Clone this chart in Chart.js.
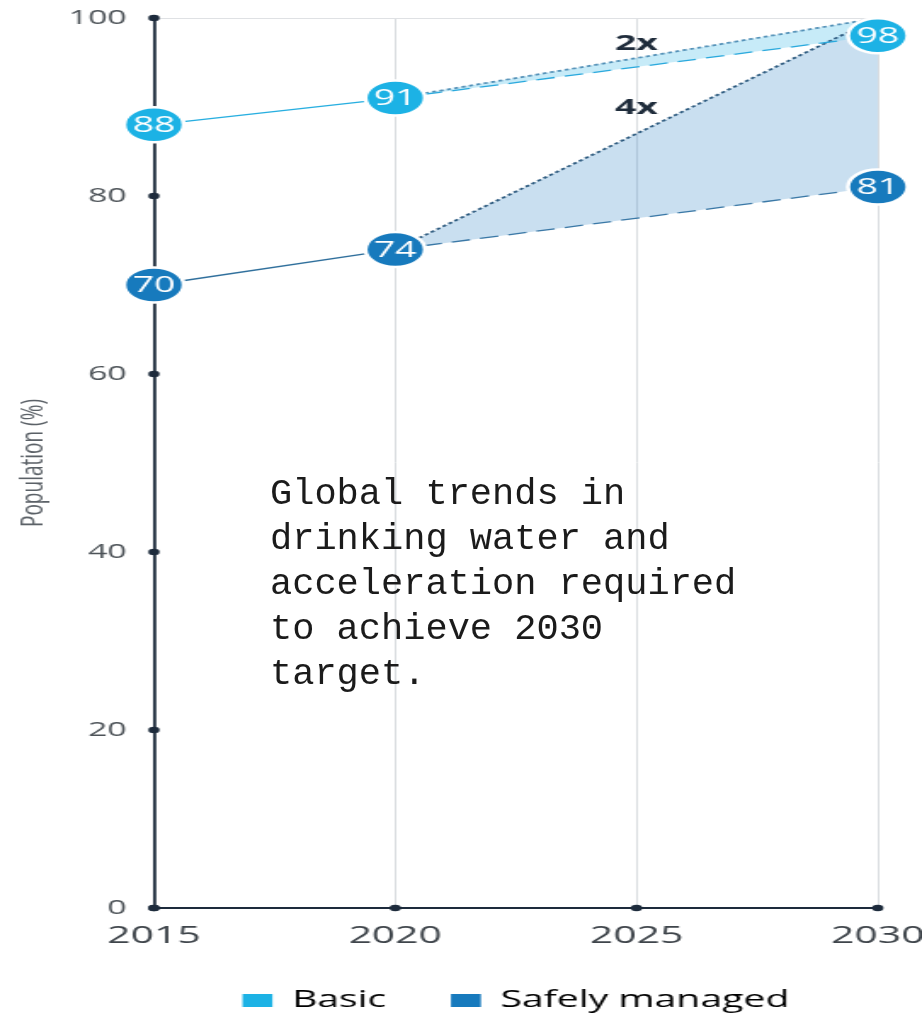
<!DOCTYPE html>
<html>
<head>
<meta charset="utf-8">
<script src="https://cdn.jsdelivr.net/npm/chart.js@4"></script>
<style>
  html, body { margin: 0; padding: 0; background: #fff; overflow: hidden; }
  #wrap { position: relative; width: 922px; height: 1014px; }
  #chart { display: block; }
  #caption {
    position: absolute; left: 270px; top: 472px; margin: 0;
    font: 37px/45px "Liberation Mono", "DejaVu Sans Mono", monospace;
    color: #1b1b1b; white-space: pre;
  }
</style>
</head>
<body>
<div id="wrap">
  <canvas id="chart" width="542" height="1014" style="width:922px;height:1014px"></canvas>
  <div id="caption">Global trends in
drinking water and
acceleration required
to achieve 2030
target.</div>
</div>
<script>
// Coverage (% of population) with drinking water services
const seriesNames = ['Basic', 'Safely managed'];
const actualYears = [2015, 2020];
const projectionYears = [2020, 2030];
const basicActual = [88, 91];
const basicProjected = [91, 98];
const basicTarget = [91, 100];
const safeActual = [70, 74];
const safeProjected = [74, 81];
const safeTarget = [74, 100];
const accelerationLabels = ['2x', '4x'];
const xTickValues = [2015, 2020, 2025, 2030];
const yTickValues = [0, 20, 40, 60, 80, 100];

const CYAN = '#1cb2e5';
const BLUE = '#177abd';
const NAVY = '#1d2b3c';
const seriesColors = [CYAN, BLUE];

const toPoints = (xs, ys) => xs.map((x, i) => ({ x, y: ys[i] }));

Chart.defaults.font.family = '"Open Sans", "Noto Sans", sans-serif';

// Round value badges on the labelled points
const badgePlugin = {
  id: 'badges',
  afterDatasetsDraw(chart) {
    const ctx = chart.ctx;
    chart.data.datasets.forEach((ds, di) => {
      if (!ds.badgeColor) return;
      const meta = chart.getDatasetMeta(di);
      meta.data.forEach((pt, i) => {
        if (ds.badgeSkip && ds.badgeSkip.includes(i)) return;
        ctx.save();
        ctx.beginPath();
        ctx.arc(pt.x, pt.y, 17.5, 0, Math.PI * 2);
        ctx.fillStyle = ds.badgeColor;
        ctx.fill();
        ctx.lineWidth = 2.5;
        ctx.strokeStyle = '#ffffff';
        ctx.stroke();
        ctx.fillStyle = '#ffffff';
        ctx.font = '500 22px "Open Sans", sans-serif';
        ctx.textAlign = 'center';
        ctx.textBaseline = 'middle';
        ctx.fillText(String(ds.data[i].y), pt.x, pt.y + 1);
        ctx.restore();
      });
    });
  }
};

// Tick dots along both axes
const axisDotsPlugin = {
  id: 'axisDots',
  afterDatasetsDraw(chart) {
    const ctx = chart.ctx;
    const { x, y } = chart.scales;
    ctx.save();
    ctx.fillStyle = NAVY;
    y.ticks.forEach(t => {
      ctx.beginPath();
      ctx.arc(chart.chartArea.left, y.getPixelForValue(t.value), 3.3, 0, Math.PI * 2);
      ctx.fill();
    });
    x.ticks.forEach(t => {
      ctx.beginPath();
      ctx.arc(x.getPixelForValue(t.value), chart.chartArea.bottom, 3.3, 0, Math.PI * 2);
      ctx.fill();
    });
    ctx.restore();
  }
};

// "2x" / "4x" acceleration marks above the target lines
const accelerationPlugin = {
  id: 'acceleration',
  afterDatasetsDraw(chart, args, opts) {
    const ctx = chart.ctx;
    ctx.save();
    ctx.fillStyle = '#1f2c3b';
    ctx.font = '700 22px "Open Sans", sans-serif';
    ctx.textAlign = 'center';
    ctx.textBaseline = 'middle';
    opts.targets.forEach((di, k) => {
      const pts = chart.getDatasetMeta(di).data;
      const mx = (pts[0].x + pts[1].x) / 2;
      const my = (pts[0].y + pts[1].y) / 2;
      ctx.fillText(accelerationLabels[k], mx, my - opts.offsets[k]);
    });
    ctx.restore();
  }
};

const dotted = [2.5, 2];
const dashed = [11, 6];

new Chart(document.getElementById('chart'), {
  type: 'line',
  data: {
    datasets: [
      { label: seriesNames[0], data: toPoints(actualYears, basicActual),
        borderColor: '#26aee0', borderWidth: 1.3, fill: false, badgeColor: CYAN },
      { label: seriesNames[0] + ' projection', data: toPoints(projectionYears, basicProjected),
        borderColor: '#2aa9dd', borderWidth: 1.3, borderDash: dashed, fill: false,
        badgeColor: CYAN, badgeSkip: [0] },
      { label: seriesNames[0] + ' target', data: toPoints(projectionYears, basicTarget),
        borderColor: '#5592b8', borderWidth: 1.8, borderDash: dotted,
        fill: '-1', backgroundColor: 'rgba(130,210,240,0.45)' },
      { label: seriesNames[1], data: toPoints(actualYears, safeActual),
        borderColor: '#2f6f9c', borderWidth: 1.3, fill: false, badgeColor: BLUE },
      { label: seriesNames[1] + ' projection', data: toPoints(projectionYears, safeProjected),
        borderColor: '#3a78a6', borderWidth: 1.3, borderDash: dashed, fill: false,
        badgeColor: BLUE, badgeSkip: [0] },
      { label: seriesNames[1] + ' target', data: toPoints(projectionYears, safeTarget),
        borderColor: '#2f5c80', borderWidth: 1.8, borderDash: dotted,
        fill: '-1', backgroundColor: 'rgba(60,140,200,0.28)' }
    ]
  },
  options: {
    responsive: false,
    animation: false,
    devicePixelRatio: 1,
    layout: { padding: { top: 18, right: 26, bottom: -8, left: 0 } },
    elements: { point: { radius: 0, hoverRadius: 0 }, line: { tension: 0 } },
    scales: {
      x: {
        type: 'linear', min: 2015, max: 2030,
        afterBuildTicks: s => { s.ticks = xTickValues.map(v => ({ value: v })); },
        afterFit: s => { s.height = 43; s.paddingLeft = 0; s.paddingRight = 0; },
        ticks: {
          callback: v => String(v), maxRotation: 0, autoSkip: false,
          padding: 14, color: '#3f454b', font: { size: 24 }
        },
        grid: { color: '#d9dcdf', lineWidth: 1, drawTicks: false },
        border: { color: NAVY, width: 2 }
      },
      y: {
        type: 'linear', min: 0, max: 100,
        afterBuildTicks: s => { s.ticks = yTickValues.map(v => ({ value: v })); },
        afterFit: s => { s.width = 90.5; s.paddingTop = 0; s.paddingBottom = 0; },
        ticks: { padding: 16, color: '#4d5358', font: { size: 20 } },
        grid: {
          drawTicks: false, lineWidth: 1,
          color: c => (c.tick && c.tick.value === 100 ? '#dfe1e4' : 'rgba(0,0,0,0)')
        },
        border: { color: NAVY, width: 1.8 },
        title: {
          display: true, text: 'Population (%)', color: '#5b6167',
          font: { size: 19 }, padding: { top: 8, bottom: 0 }
        }
      }
    },
    plugins: {
      filler: { drawTime: 'beforeDatasetsDraw' },
      tooltip: { enabled: false },
      acceleration: { targets: [2, 5], offsets: [14, 26] },
      legend: {
        position: 'bottom', align: 'center', fullSize: false,
        labels: {
          boxWidth: 17.6, boxHeight: 13, padding: 38, color: '#3f4449',
          font: { size: 23 },
          generateLabels: () => seriesNames.map((name, i) => ({
            text: name, fillStyle: seriesColors[i], strokeStyle: seriesColors[i],
            lineWidth: 0, hidden: false, datasetIndex: i * 3
          }))
        }
      }
    }
  },
  plugins: [badgePlugin, axisDotsPlugin, accelerationPlugin]
});
</script>
</body>
</html>
